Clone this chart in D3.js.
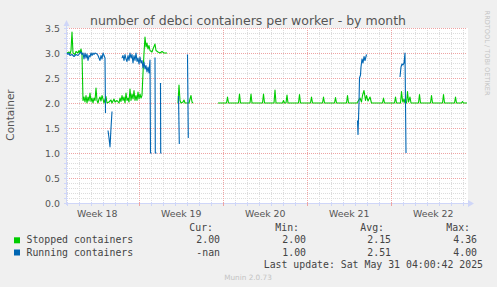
<!DOCTYPE html>
<html lang="en">
<head>
<meta charset="UTF-8">
<title>debci containers per worker - by month</title>
<script src="https://d3js.org/d3.v7.min.js"></script>
<style>
  body { margin: 0; background: #f0f0f0; }
  svg { display: block; font-family: "DejaVu Sans", sans-serif; }
  .mono { font-family: "DejaVu Sans Mono", monospace; font-size: 9.85px; fill: #444; }
</style>
</head>
<body>
<div id="chart"></div>
<script>
// time of the left edge of the graph; data times are hours after it
const startTime = Date.UTC(2025, 3, 28, 23, 30);
const spanHours = 800;

const weekMondays = ["2025-04-28", "2025-05-05", "2025-05-12", "2025-05-19", "2025-05-26"];
const weekLabels = ["Week 18", "Week 19", "Week 20", "Week 21", "Week 22"];
const yTicks = [0, 0.5, 1, 1.5, 2, 2.5, 3, 3.5];

// [hours, value] runs, broken where rrd has no data
const stoppedSegments = [
  [[0,3.0],[4,3.02],[6,2.98],[8,3.05],[10,3.42],[12,3.0],[16,2.97],[18,3.03],[22,3.0],[24,3.05],
   [26,3.0],[28,3.08],[30,2.98],[32,2.05],[34,2.12],[36,2.02],[38,2.15],[40,2.0],[42,2.12],[44,2.04],
   [46,2.2],[48,2.03],[50,2.1],[52,2.0],[54,2.1],[56,2.05],[58,2.3],[60,2.05],[62,2.0],[64,2.08],
   [66,2.12],[68,2.04],[70,2.15],[72,2.08],[74,2.0],[76,2.07],[78,2.13],[80,2.0],[84,2.02],[88,2.06],
   [90,2.0],[94,2.08],[96,2.02],[100,2.05],[104,2.0],[106,2.1],[108,2.03],[110,2.15],[112,2.05],[114,2.12],
   [116,2.0],[118,2.2],[120,2.05],[122,2.1],[124,2.02],[126,2.28],[128,2.05],[130,2.18],[132,2.08],[134,2.25],
   [136,2.05],[138,2.15],[140,2.05],[142,2.22],[144,2.08],[146,2.18],[148,2.1],[150,2.15],[152,2.6],[154,3.0],
   [156,3.32],[158,3.12],[160,3.2],[162,3.08],[164,3.15],[166,3.05],[170,3.02],[172,3.08],[176,3.18],[178,3.05],
   [182,3.02],[186,3.0],[190,3.03],[194,3.0],[200,3.0]],
  [[222,2.0],[224,2.36],[226,2.05],[228,2.0],[232,2.02],[234,2.06],[236,2.0],[244,2.0],[246,2.08],[248,2.15],
   [250,2.02],[252,2.0]],
  [[302,2.0],[319,2.0],[321,2.12],[323,2.0],[343,2.0],[345,2.18],[347,2.0],[366,2.0],[368,2.18],[370,2.0],
   [391,2.0],[393,2.18],[395,2.0],[414,2.0],[416,2.26],[418,2.0],[431,2.0],[433,2.05],[435,2.0],[438,2.0],
   [440,2.16],[442,2.0],[463,2.0],[465,2.17],[467,2.0],[487,2.0],[489,2.12],[491,2.0],[511,2.0],[513,2.12],
   [515,2.0],[535,2.0],[537,2.11],[539,2.0],[559,2.0],[561,2.15],[563,2.0],[580,2.0],[583,2.05],[586,2.1],
   [589,2.02],[591,2.15],[594,2.25],[597,2.05],[599,2.15],[602,2.04],[606,2.12],[609,2.0],[631,2.0],[633,2.1],
   [635,2.0],[655,2.0],[657,2.12],[659,2.0],[667,2.0],[669,2.23],[671,2.05],[672,2.02],[674,2.08],[676,2.0],
   [679,2.0],[681,2.23],[683,2.02],[686,2.12],[688,2.0],[703,2.0],[705,2.17],[707,2.0],[727,2.0],[729,2.15],
   [731,2.0],[751,2.0],[753,2.17],[755,2.0],[775,2.0],[777,2.12],[779,2.0],[789,2.0],[791,2.03],[793,2.0],
   [800,2.0]]
];

const runningSegments = [
  [[0,3.0],[2,2.97],[4,3.0],[6,2.95],[10,2.97],[14,2.93],[18,2.97],[22,2.95],[26,3.0],[28,3.02],
   [30,2.97],[32,3.0],[34,2.88],[36,3.0],[38,2.9],[40,2.98],[42,2.85],[44,2.95],[46,2.92],[48,3.0],
   [50,2.95],[52,3.0],[54,2.97],[56,3.0],[60,2.98],[62,2.95],[64,2.9],[66,2.85],[68,2.95],[70,2.88],
   [72,3.0],[74,2.95],[76,2.9],[77,1.8]],
  [[82,1.45],[84,1.3],[86,1.12],[88,1.5],[90,1.83]],
  [[110,2.9],[112,2.95],[114,2.85],[116,2.97],[118,2.88],[120,2.83],[122,2.95],[124,2.85],[126,3.0],[128,2.9],
   [130,2.97],[132,2.8],[134,2.95],[136,2.85],[138,3.0],[140,2.83],[142,2.9],[144,2.78],[146,2.92],[148,2.8],
   [150,2.85],[152,2.7],[154,2.82],[156,2.68],[158,2.75],[160,2.62],[162,2.72],[164,2.6],[166,2.86],[167,1.0],
   [169,1.0]],
  [[176,2.91],[176.6,1.0],[179,1.0]],
  [[187,2.4],[187.4,1.0],[189,1.0]],
  [[223,2.14],[224.6,1.18]],
  [[241,2.97],[242.6,1.3]],
  [[581,1.65],[582,1.37],[584,2.0],[585,2.5],[587,2.56],[588,2.72],[590,2.88],[592,2.8],[594,2.93],[596,2.85],
   [599,2.97]],
  [[666,2.52],[668,2.72],[670,2.78],[672,2.76],[674,2.8],[676,3.0],[678,1.0]]
];

const seriesNames = ["Stopped containers", "Running containers"];
const seriesColors = ["#00cc00", "#0066b3"];
const curValues = ["2.00", "-nan"];
const minValues = ["2.00", "1.00"];
const avgValues = ["2.15", "2.51"];
const maxValues = ["4.36", "4.00"];

const W = 497, H = 287;
const plotLeft = 67, plotRight = 467, plotTop = 28, plotBottom = 203;
const HOUR = 3600e3;

const svg = d3.select("#chart").append("svg")
  .attr("width", W).attr("height", H);

svg.append("rect").attr("width", W).attr("height", H).attr("fill", "#f0f0f0");

const x = d3.scaleTime()
  .domain([new Date(startTime), new Date(startTime + spanHours * HOUR)])
  .range([plotLeft, plotRight]);
const y = d3.scaleLinear().domain([0, 3.5]).range([plotBottom, plotTop]);
const px = v => Math.round(v) + 0.5;

svg.append("rect")
  .attr("x", plotLeft).attr("y", plotTop)
  .attr("width", plotRight - plotLeft + 1).attr("height", plotBottom - plotTop)
  .attr("fill", "#ffffff");

// minor grid: days and tenths
const days = d3.utcDay.range(x.domain()[0], x.domain()[1]);
const mondays = weekMondays.map(d => new Date(d + "T00:00:00Z"))
  .filter(d => d >= x.domain()[0] && d <= x.domain()[1]);
const isMonday = d => d.getUTCDay() === 1;
const minorColor = "#dcdcdc", majorColor = "#eea4a4";

const grid = svg.append("g").attr("shape-rendering", "crispEdges");
grid.selectAll("line.vmin").data(days.filter(d => !isMonday(d))).join("line")
  .attr("x1", d => px(x(d))).attr("x2", d => px(x(d)))
  .attr("y1", plotTop).attr("y2", plotBottom)
  .attr("stroke", minorColor).attr("stroke-dasharray", "1,1");

const tenths = d3.range(1, 35).map(i => i / 10).filter(v => Math.round(v * 10) % 5 !== 0);
grid.selectAll("line.hmin").data(tenths).join("line")
  .attr("x1", plotLeft).attr("x2", plotRight)
  .attr("y1", d => px(y(d))).attr("y2", d => px(y(d)))
  .attr("stroke", minorColor).attr("stroke-dasharray", "1,1");

// major grid: weeks and halves
grid.selectAll("line.vmaj").data(mondays).join("line")
  .attr("x1", d => px(x(d))).attr("x2", d => px(x(d)))
  .attr("y1", plotTop).attr("y2", plotBottom + 2)
  .attr("stroke", majorColor).attr("stroke-dasharray", "1,1");

grid.selectAll("line.hmaj").data(yTicks.filter(v => v > 0)).join("line")
  .attr("x1", plotLeft).attr("x2", plotRight)
  .attr("y1", d => px(y(d))).attr("y2", d => px(y(d)))
  .attr("stroke", majorColor).attr("stroke-dasharray", "1,1");

// axes
const axisColor = "#cfd6f8";
const ax = svg.append("g").attr("shape-rendering", "crispEdges");
ax.append("line").attr("x1", plotLeft - 2).attr("x2", plotRight + 2)
  .attr("y1", px(plotBottom)).attr("y2", px(plotBottom)).attr("stroke", axisColor);
ax.append("line").attr("x1", px(plotLeft - 1)).attr("x2", px(plotLeft - 1))
  .attr("y1", plotBottom + 2).attr("y2", plotTop - 3).attr("stroke", axisColor);
ax.selectAll("line.ytk").data(d3.range(0, 36).map(i => i / 10)).join("line")
  .attr("x1", plotLeft - 3).attr("x2", plotLeft + 1)
  .attr("y1", d => px(y(d))).attr("y2", d => px(y(d)))
  .attr("stroke", axisColor);
ax.selectAll("line.xtk").data(days).join("line")
  .attr("x1", d => px(x(d))).attr("x2", d => px(x(d)))
  .attr("y1", plotBottom - 1).attr("y2", plotBottom + 3)
  .attr("stroke", d => isMonday(d) ? majorColor : axisColor);

svg.append("path")
  .attr("d", `M${plotRight + 1},${plotBottom - 3} L${plotRight + 7},${plotBottom + 0.5} L${plotRight + 1},${plotBottom + 4} Z`)
  .attr("fill", axisColor);
svg.append("path")
  .attr("d", `M${plotLeft - 3.5},${plotTop - 2} L${plotLeft - 0.5},${plotTop - 8} L${plotLeft + 2.5},${plotTop - 2} Z`)
  .attr("fill", axisColor);

// tick labels
svg.selectAll("text.ylab").data(yTicks).join("text")
  .attr("x", 60).attr("y", d => y(d) + 3.5)
  .attr("text-anchor", "end")
  .attr("font-size", "9.4px").attr("fill", "#555")
  .text(d => d.toFixed(1));

svg.selectAll("text.xlab").data(weekMondays).join("text")
  .attr("x", d => x(new Date(new Date(d + "T00:00:00Z").getTime() + 84 * HOUR)))
  .attr("y", 216.5)
  .attr("text-anchor", "middle")
  .attr("font-size", "9.4px").attr("fill", "#555")
  .text((d, i) => weekLabels[i]);

// series
const line = d3.line()
  .x(d => x(new Date(startTime + d[0] * HOUR)))
  .y(d => y(d[1]));

[stoppedSegments, runningSegments].forEach((segs, i) => {
  svg.append("g").selectAll("path").data(segs).join("path")
    .attr("d", line)
    .attr("fill", "none")
    .attr("stroke", seriesColors[i])
    .attr("stroke-width", 1.1)
    .attr("stroke-linejoin", "round");
});

// title and labels
svg.append("text")
  .attr("x", 248).attr("y", 24.5)
  .attr("text-anchor", "middle")
  .attr("font-size", "12.5px").attr("fill", "#555")
  .text("number of debci containers per worker - by month");

svg.append("text")
  .attr("transform", "translate(14,115) rotate(-90)")
  .attr("text-anchor", "middle")
  .attr("font-size", "10.5px").attr("fill", "#555")
  .text("Container");

svg.append("text")
  .attr("transform", "translate(485,53) rotate(90)")
  .attr("text-anchor", "middle")
  .attr("font-size", "6.6px").attr("fill", "#c4c4c4")
  .text("RRDTOOL / TOBI OETIKER");

// legend
const headers = [["Cur:", 213], ["Min:", 299], ["Avg:", 384], ["Max:", 470]];
svg.selectAll("text.hdr").data(headers).join("text")
  .attr("class", "mono")
  .attr("x", d => d[1]).attr("y", 231)
  .attr("text-anchor", "end")
  .text(d => d[0]);

const colX = [220, 306, 391, 477];
seriesNames.forEach((name, i) => {
  const by = 243.3 + i * 12.2;
  svg.append("rect")
    .attr("x", 14).attr("y", by - 6)
    .attr("width", 6).attr("height", 6)
    .attr("fill", seriesColors[i]);
  svg.append("text").attr("class", "mono")
    .attr("x", 26.5).attr("y", by).text(name);
  [curValues, minValues, avgValues, maxValues].forEach((vals, j) => {
    svg.append("text").attr("class", "mono")
      .attr("x", colX[j]).attr("y", by)
      .attr("text-anchor", "end")
      .text(vals[i]);
  });
});

svg.append("text").attr("class", "mono")
  .attr("x", 483).attr("y", 267.5)
  .attr("text-anchor", "end")
  .text("Last update: Sat May 31 04:00:42 2025");

svg.append("text")
  .attr("x", 248).attr("y", 279.5)
  .attr("text-anchor", "middle")
  .attr("font-size", "7.3px").attr("fill", "#c4c4c4")
  .text("Munin 2.0.73");
</script>
</body>
</html>
